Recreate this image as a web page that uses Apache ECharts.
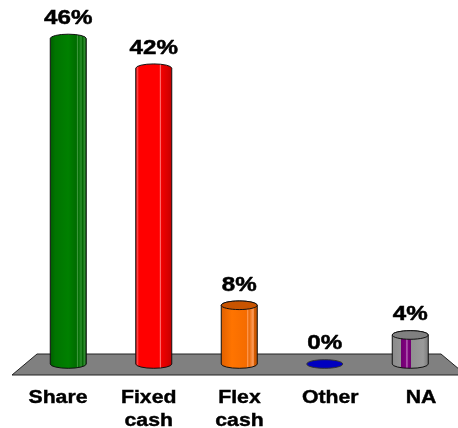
<!DOCTYPE html>
<html><head><meta charset="utf-8">
<style>html,body{margin:0;padding:0;background:#fff;overflow:hidden}#c{width:458px;height:428px}</style>
<script src="https://cdn.jsdelivr.net/npm/echarts@6/dist/echarts.min.js"></script>
</head><body><div id="c"></div>
<script>
var categories = ['Share', 'Fixed\ncash', 'Flex\ncash', 'Other', 'NA'];
var values = [46, 41.8, 8.3, 0, 4.1];
var labels = ['46%', '42%', '8%', '0%', '4%'];
var bodyStops = [
  [[0,'#005000'],[0.05,'#006400'],[0.15,'#007400'],[0.5,'#008000'],[0.72,'#006c00'],[0.75,'#3a963a'],[0.78,'#007000'],[0.85,'#2f8f2f'],[0.88,'#006400'],[0.94,'#2f8a2f'],[1,'#005000']],
  [[0,'#d80000'],[0.06,'#ff4040'],[0.1,'#ff0000'],[0.65,'#ff0000'],[0.68,'#ff7070'],[0.71,'#f00000'],[0.88,'#d80000'],[1,'#c00000']],
  [[0,'#e06000'],[0.3,'#ff7400'],[0.7,'#f56c00'],[0.73,'#ffa060'],[0.76,'#ea6600'],[0.88,'#ffa060'],[0.9,'#d85c00'],[1,'#b85000']],
  [[0,'#0000c0'],[1,'#0000c0']],
  [[0,'#8a8a8a'],[0.24,'#949494'],[0.25,'#700070'],[0.38,'#800080'],[0.41,'#c080c0'],[0.44,'#800080'],[0.52,'#700070'],[0.53,'#909090'],[0.85,'#9a9a9a'],[1,'#777777']]
];
var topColors = [null, null, '#c85400', '#0000c0', '#808080'];
var floorColor = '#808080';

var FONT = '"Liberation Sans", Arial, sans-serif';
var chart = echarts.init(document.getElementById('c'));
var BW = 36, RY = 4.3;
function renderCyl(params, api) {
  var i = api.value(0), v = api.value(1);
  var b = api.coord([i, 0]), t = api.coord([i, v]);
  var cx = b[0], L = cx - BW / 2, R = cx + BW / 2;
  var ry = RY, by = b[1], ty = t[1];
  var stops = bodyStops[i].map(function (s) { return { offset: s[0], color: s[1] }; });
  var bodyPath = 'M' + L + ' ' + ty + ' L' + L + ' ' + by +
    ' A' + (BW / 2) + ' ' + ry + ' 0 0 0 ' + R + ' ' + by +
    ' L' + R + ' ' + ty +
    ' A' + (BW / 2) + ' ' + ry + ' 0 0 0 ' + L + ' ' + ty + ' Z';
  var children = [];
  if (v > 0) {
    children.push({
      type: 'path',
      shape: { pathData: bodyPath, x: L, y: ty - ry, width: BW, height: by - ty + 2 * ry, layout: 'center' },
      style: { fill: { type: 'linear', x: 0, y: 0, x2: 1, y2: 0, colorStops: stops }, stroke: '#111', lineWidth: 1 }
    });
  }
  if (topColors[i]) {
    children.push({
      type: 'ellipse',
      shape: { cx: cx, cy: ty, rx: BW / 2, ry: ry },
      style: { fill: topColors[i], stroke: v > 0 ? '#111' : '#333', lineWidth: 1 }
    });
  }
  children.push({
    type: 'text', x: cx, y: ty - 20.5, scaleX: 1.15,
    style: { text: labels[i], x: 0, y: 0, align: 'center', verticalAlign: 'middle',
      font: 'bold 21px ' + FONT, fill: '#000', stroke: '#000', lineWidth: 0.5 }
  });
  return { type: 'group', children: children };
}
function renderCat(params, api) {
  var i = api.value(0);
  var p = api.coord([i, 0]);
  return {
    type: 'text', x: p[0], y: p[1] + 23, scaleX: 1.18,
    style: { text: categories[i], x: 0, y: 0, align: 'center', verticalAlign: 'top', lineHeight: 22.5,
      font: 'bold 18px ' + FONT, fill: '#000', stroke: '#000', lineWidth: 0.4 }
  };
}
chart.setOption({
  animation: false,
  backgroundColor: '#fff',
  grid: [
    { left: 25.5, width: 427.5, top: 38.5, height: 325.5, outerBoundsMode: 'none' },
    { left: 12.6, width: 453.75, top: 38.5, height: 325.5, outerBoundsMode: 'none' }
  ],
  xAxis: [
    { type: 'category', gridIndex: 0, data: categories, show: false },
    { type: 'category', gridIndex: 1, data: categories, axisLine: { show: false }, axisTick: { show: false }, axisLabel: { show: false } }
  ],
  yAxis: [
    { type: 'value', gridIndex: 0, min: 0, max: 46, show: false, splitLine: { show: false } },
    { type: 'value', gridIndex: 1, min: 0, max: 46, show: false, splitLine: { show: false } }
  ],
  graphic: [{
    type: 'polygon', z: 0, silent: true,
    shape: { points: [[12, 375], [37, 354], [441, 354], [466, 375]] },
    style: { fill: floorColor, stroke: '#222', lineWidth: 1 }
  }],
  series: [{
    type: 'custom', clip: false, z: 5, xAxisIndex: 0, yAxisIndex: 0,
    renderItem: renderCyl,
    data: values.map(function (v, i) { return [i, v]; }),
    encode: { x: 0, y: 1 }
  }, {
    type: 'custom', clip: false, z: 5, xAxisIndex: 1, yAxisIndex: 1,
    renderItem: renderCat,
    data: categories.map(function (c, i) { return [i, 0]; }),
    encode: { x: 0, y: 1 }
  }]
});
</script></body></html>
